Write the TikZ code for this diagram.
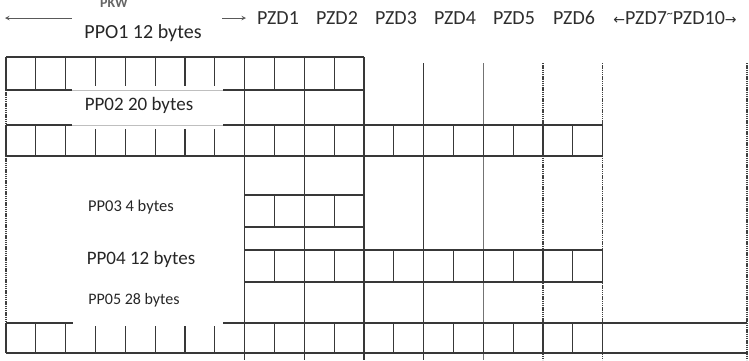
\documentclass[tikz,border=0pt]{standalone}
\usepackage{fontspec}
\setmainfont{Carlito}
\newfontfamily\arrowfont{DejaVu Sans}
\begin{document}
\begin{tikzpicture}[x=1pt,y=-1pt,
  ln/.style={draw=black!78,line width=1.2pt},
  faint/.style={draw=black!25,line width=0.8pt},
  lite/.style={draw=black!55,line width=1pt},
  dotl/.style={draw=black!75,line width=1.3pt,dash pattern=on 1.3pt off 0.9pt},
  lbl/.style={text=black!85,inner sep=0pt},
  hdr/.style={text=black!82,inner sep=0pt,font=\fontsize{20}{20}\selectfont}]
\useasboundingbox (0,0) rectangle (749,360);
\clip (0,0) rectangle (749,360);
\def\cw{29.83}
% long column dividers
\foreach \i in {8,10,12} \draw[ln] ({6+\i*\cw},57) -- ({6+\i*\cw},360);
\draw[ln] ({6+14*\cw},63) -- ({6+14*\cw},360);
\draw[lite] ({6+16*\cw},63) -- ({6+16*\cw},360);
\foreach \i in {18,20} \draw[dotl] ({6+\i*\cw},63) -- ({6+\i*\cw},360);
\draw[dotl] (747,63) -- (747,360);
\draw[dotl] (6,90) -- (6,323);
% row 1 (PPO1)
\draw[ln] (6,57) -- (364,57);
\draw[ln] (6,90) -- (72,90); \draw[faint] (72,90) -- (223,90); \draw[ln] (223,90) -- (364,90);
\foreach \i in {0,1,2,8,9,10,11,12} \draw[ln] ({6+\i*\cw},57) -- ({6+\i*\cw},90);
\foreach \i in {3,...,7} \draw[ln] ({6+\i*\cw},57) -- ({6+\i*\cw},86);
% row 2 (PP02)
\draw[ln] (6,125) -- (72,125); \draw[faint] (72,125) -- (223,125); \draw[ln] (223,125) -- (602.6,125);
\draw[ln] (6,156) -- (602.6,156);
\foreach \i in {0,1,2,8,9,...,20} \draw[ln] ({6+\i*\cw},125) -- ({6+\i*\cw},156);
\foreach \i in {3,...,7} \draw[ln] ({6+\i*\cw},129) -- ({6+\i*\cw},156);
% row 3 (PP03)
\draw[ln] (244.6,195) -- (364,195);
\draw[ln] (244.6,227) -- (364,227);
\foreach \i in {8,...,12} \draw[ln] ({6+\i*\cw},195) -- ({6+\i*\cw},227);
% row 4 (PP04)
\draw[ln] (244.6,250) -- (602.6,250);
\draw[ln] (244.6,282) -- (602.6,282);
\foreach \i in {8,...,20} \draw[ln] ({6+\i*\cw},250) -- ({6+\i*\cw},282);
% row 5 (PP05)
\draw[ln] (6,323) -- (73,323); \draw[ln] (223,323) -- (747,323);
\draw[ln] (6,353) -- (747,353);
\foreach \i in {0,1,2,8,9,...,20} \draw[ln] ({6+\i*\cw},323) -- ({6+\i*\cw},353);
\foreach \i in {3,...,7} \draw[ln] ({6+\i*\cw},326) -- ({6+\i*\cw},353);
% header
\coordinate (la) at (5,18); \coordinate (lb) at (72,18);
\coordinate (ra) at (222,18); \coordinate (rb) at (246,18);
\draw[draw=black!65,line width=1pt,<-,>=stealth] (la) -- (lb);
\draw[draw=black!65,line width=1pt,->,>=stealth] (ra) -- (rb);
\node[lbl,anchor=base,font=\fontsize{14}{14}\selectfont\bfseries,text=black!60] (pkw) at (114,7) {PKW};
\node[lbl,font=\fontsize{20}{20}\selectfont] (p1) at (143,33) {PPO1 12 bytes};
\foreach \n/\x in {1/278,2/337,3/396,4/455,5/514,6/574}
  \node[hdr] (pzd\n) at (\x,18) {PZD\n};
\node[hdr] (pzd7) at (675,18) {{\arrowfont\fontsize{14}{14}\selectfont ←}PZD7\raisebox{0.35em}{\fontsize{12}{12}\selectfont\textasciitilde}PZD10{\arrowfont\fontsize{14}{14}\selectfont →}};
% labels
\node[lbl,font=\fontsize{19}{19}\selectfont] (p2) at (139,105) {PP02 20 bytes};
\node[lbl,font=\fontsize{16.5}{16.5}\selectfont] (p3) at (131,207) {PP03 4 bytes};
\node[lbl,font=\fontsize{19}{19}\selectfont] (p4) at (141,259) {PP04 12 bytes};
\node[lbl,font=\fontsize{16}{16}\selectfont] (p5) at (134,300) {PP05 28 bytes};
\end{tikzpicture}
\end{document}
